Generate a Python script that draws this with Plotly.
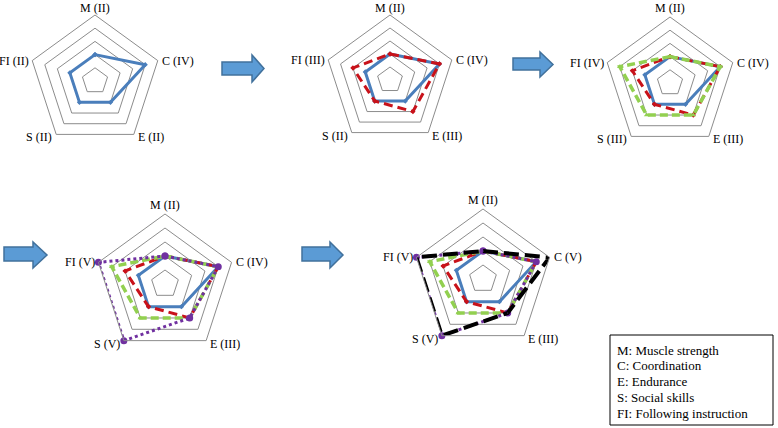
import math
import plotly.graph_objects as go

W, H = 778, 428

# ---- data ----
categories = ["M", "C", "E", "S", "FI"]
stage1 = [2, 4, 2, 2, 2]   # blue solid
stage2 = [2, 4, 3, 2, 3]   # red dashed
stage3 = [2, 4, 3, 3, 4]   # green dashed
stage4 = [2, 4, 3, 5, 5]   # purple dotted
stage5 = [2, 5, 3, 5, 5]   # black long dash

labels1 = ["M (II)", "C (IV)", "E (II)", "S (II)", "FI (II)"]
labels2 = ["M (II)", "C (IV)", "E (III)", "S (II)", "FI (III)"]
labels3 = ["M (II)", "C (IV)", "E (III)", "S (III)", "FI (IV)"]
labels4 = ["M (II)", "C (IV)", "E (III)", "S (V)", "FI (V)"]
labels5 = ["M (II)", "C (V)", "E (III)", "S (V)", "FI (V)"]

legend_lines = ["M: Muscle strength", "C: Coordination", "E: Endurance",
                "S: Social skills", "FI: Following instruction"]

stages = [stage1, stage2, stage3, stage4, stage5]
labels = [labels1, labels2, labels3, labels4, labels5]

styles = [
    dict(color="#4a7ebb", width=3, dash="solid", msym="diamond", msize=4),
    dict(color="#c8121a", width=3, dash="9px,5px", msym="diamond", msize=4),
    dict(color="#92d050", width=3.5, dash="8px,4px", msym="triangle-up", msize=5),
    dict(color="#7030a0", width=3, dash="dot", msym="circle", msize=7),
    dict(color="#000000", width=4, dash="15px,6px", msym="circle", msize=1),
]

# chart centres / radii (pixels)
layout_px = [(95, 81, 66), (390, 80, 65), (670, 83, 66), (165, 284, 70), (483, 279, 70)]

def px2paper(x, y):
    return x / W, 1 - y / H

fig = go.Figure()
layout = {}
annotations = []
label_font = dict(family="Liberation Serif", size=12, color="#000")
# (dx, dy, xanchor) offset of each axis label from its vertex
label_off = [(0, -9, "center"), (3, 0, "left"), (3, 3, "left"),
             (-3, 3, "right"), (-2, 0, "right")]
for i in range(5):
    pname = "polar" if i == 0 else f"polar{i+1}"
    cx, cy, R = layout_px[i]
    x0, _ = px2paper(cx - R, 0)
    x1, _ = px2paper(cx + R, 0)
    _, y1 = px2paper(0, cy - R)
    _, y0 = px2paper(0, cy + R)
    layout[pname] = dict(
        domain=dict(x=[x0, x1], y=[y0, y1]),
        gridshape="linear",
        bgcolor="rgba(0,0,0,0)",
        radialaxis=dict(range=[0, 5], tickvals=[1, 2, 3, 4], showticklabels=False,
                        ticks="", showline=False, gridcolor="#8c8c8c", gridwidth=1),
        angularaxis=dict(rotation=90, direction="clockwise", type="category",
                         categoryarray=labels[i], showgrid=False, ticks="",
                         showticklabels=False,
                         linecolor="#8c8c8c", linewidth=1),
    )
    for j in range(i + 1):
        st = styles[j]
        vals = stages[j]
        fig.add_trace(go.Scatterpolar(
            r=vals + [vals[0]], theta=labels[i] + [labels[i][0]],
            mode="lines+markers",
            line=dict(color=st["color"], width=st["width"], dash=st["dash"]),
            marker=dict(color=st["color"] if j != 4 else "#7030a0", size=st["msize"], symbol=st["msym"]),
            subplot=pname, showlegend=False, hoverinfo="skip"))
    # axis labels next to each outer vertex
    for k, lab in enumerate(labels[i]):
        a = math.radians(72 * k)
        vx = cx + R * math.sin(a)
        vy = cy - R * math.cos(a)
        dx, dy, xa = label_off[k]
        ly = max(vy + dy, 8)
        ax, ay = px2paper(vx + dx, ly)
        annotations.append(dict(x=ax, y=ay, xref="paper", yref="paper", text=lab,
                                showarrow=False, xanchor=xa, yanchor="middle", font=label_font,
                                borderpad=0))

# arrows (decoration)
arrows = [
    (222, 252, 264, 62, 75, 55, 82),
    (513, 540, 553, 58, 70, 52, 77),
    (4, 33, 47, 247, 261, 242, 268),
    (302, 330, 343, 247, 261, 242, 268),
]
shapes = []
for (xl, xh, xt, bt, bb, ht, hb) in arrows:
    tip_y = (ht + hb) / 2
    pts = [(xl, bt), (xh, bt), (xh, ht), (xt, tip_y), (xh, hb), (xh, bb), (xl, bb)]
    path = "M " + " L ".join(f"{px2paper(x, y)[0]:.5f},{px2paper(x, y)[1]:.5f}" for x, y in pts) + " Z"
    shapes.append(dict(type="path", xref="paper", yref="paper", path=path,
                       fillcolor="#5b9bd5", line=dict(color="#41719c", width=1.5)))

# legend box
bx0, by0 = px2paper(610, 335)
bx1, by1 = px2paper(773, 425)
shapes.append(dict(type="rect", xref="paper", yref="paper", x0=bx0, y0=by1, x1=bx1, y1=by0,
                   line=dict(color="#000", width=1), fillcolor="rgba(0,0,0,0)"))
for k, t in enumerate(legend_lines):
    ax, ay = px2paper(615, 350 + k * 15.8)
    annotations.append(dict(x=ax, y=ay, xref="paper", yref="paper", text=t, showarrow=False,
                            xanchor="left", yanchor="middle",
                            font=dict(family="Liberation Serif", size=13, color="#000")))

fig.update_layout(width=W, height=H, margin=dict(l=0, r=0, t=0, b=0),
                  paper_bgcolor="white", plot_bgcolor="white",
                  shapes=shapes, annotations=annotations, **layout)

fig.write_html("out.html", config={"displayModeBar": False},
               post_script="document.body.style.margin='0';document.body.style.padding='0';")
